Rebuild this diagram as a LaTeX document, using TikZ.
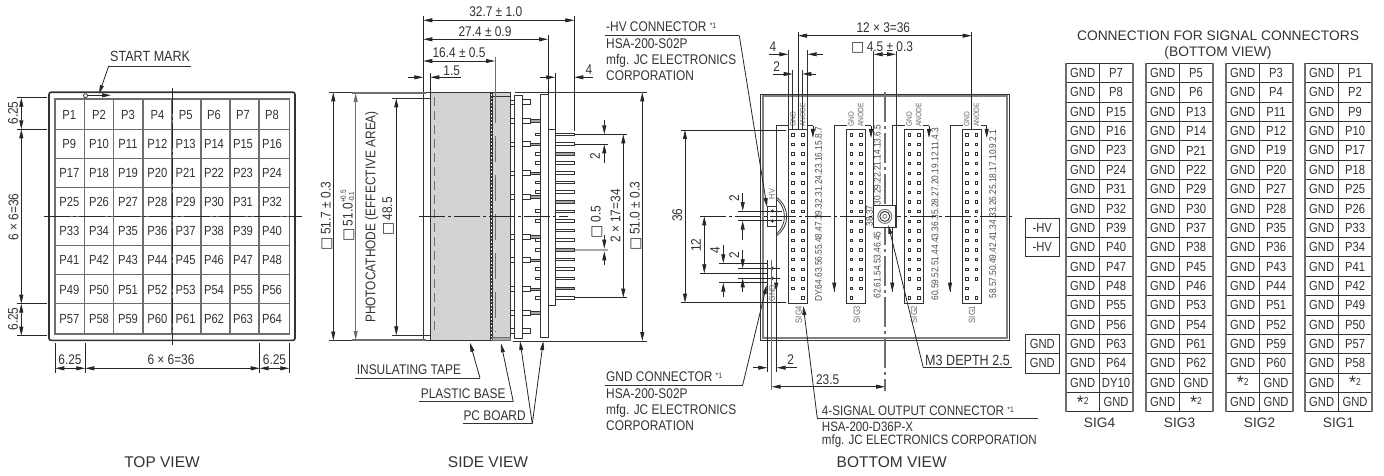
\documentclass[tikz,border=0pt]{standalone}
\usepackage{fontspec}
\setmainfont{Liberation Sans}[FakeStretch=0.85]
\newfontfamily\widefont{Liberation Sans}
\newfontfamily\symfont{DejaVu Sans}
\usetikzlibrary{arrows.meta}
\definecolor{ink}{HTML}{333333}
\definecolor{linegray}{HTML}{6E6E6E}
\definecolor{bodygray}{HTML}{D2D3D5}
\definecolor{pingray}{HTML}{A8A8A8}
\newcommand{\sq}{{\symfont □}}
\newcommand{\noteone}{\raisebox{3.5pt}{\fontsize{8}{8}\selectfont *1}}
\newcommand{\notetwo}{\raisebox{-3.5pt}{\fontsize{18}{18}\selectfont\widefont *}{\fontsize{10}{10}\selectfont 2}}
\tikzset{
  lbl/.style={font=\fontsize{14}{16}\selectfont, text=ink, inner sep=0pt},
  cell/.style={font=\fontsize{13.2}{15}\selectfont, text=ink, inner sep=0pt},
  title lbl/.style={font=\fontsize{15.5}{17}\selectfont\widefont, text=ink, inner sep=0pt},
  num lbl/.style={font=\fontsize{9.8}{11}\selectfont, text=black!70, inner sep=0pt, rotate=90},
  tiny lbl/.style={font=\fontsize{7.8}{9}\selectfont, text=black!60, inner sep=0pt, rotate=90},
  thin lne/.style={draw=ink, line width=0.8pt},
  ext/.style={draw=black!85, line width=0.7pt},
  dimboth/.style={draw=black!85, line width=0.8pt, {Stealth[inset=0pt,length=9pt,width=4pt]}-{Stealth[inset=0pt,length=9pt,width=4pt]}},
  dimto/.style={draw=black!85, line width=0.8pt, -{Stealth[inset=0pt,length=9pt,width=4pt]}},
  center lne/.style={draw=black!85, line width=0.8pt, dash pattern=on 26pt off 3pt on 3pt off 3pt},
  pin/.style={draw=ink, line width=0.7pt, fill=white},
}
% one table of the signal connectors: x of left edge, name, left column, right column
\newcommand{\sigtable}[4]{
  \foreach \txt [count=\i] in {#3}
    \node[cell] at ({#1+16.7},{63.3+19.36*(\i-0.5)}) {\txt};
  \foreach \txt [count=\i] in {#4}
    \node[cell] at ({#1+50},{63.3+19.36*(\i-0.5)}) {\txt};
  \foreach \i in {0,...,18}
    \draw[ink, line width=0.9pt] (#1,{63.3+19.36*\i}) -- ({#1+67},{63.3+19.36*\i});
  \draw[linegray, line width=1.2pt] (#1,63.3) -- (#1,411.8);
  \draw[linegray, line width=1.2pt] ({#1+67},63.3) -- ({#1+67},411.8);
  \draw[ink, line width=0.8pt] ({#1+33.3},63.3) -- ({#1+33.3},411.8);
  \node[lbl, font=\fontsize{13.7}{15}\selectfont\widefont] at ({#1+33.5},422.7) {#2};
}
% one connector of the bottom view: left edge, and the pin that is left out (x offset, row)
\newcommand{\sigconn}[3]{
  \draw[ink, line width=0.9pt, fill=white] (#1,129.3) rectangle ({#1+19.5},303.3);
  \foreach \i in {0,...,17}
    \foreach \xp in {4.8,14.5}
      \draw[ink, line width=0.7pt, fill=white] ({#1+\xp-1.2},{134.7+9.6*\i-1.2}) rectangle ({#1+\xp+1.2},{134.7+9.6*\i+1.2});
  \fill[white] ({#1+#2-1.8},{134.7+9.6*#3-1.8}) rectangle ({#1+#2+1.8},{134.7+9.6*#3+1.8});
  \node[tiny lbl, anchor=west] at ({#1+4.8},127) {GND};
  \node[tiny lbl, anchor=west] at ({#1+14.5},127) {ANODE};
  \draw[ink, line width=0.9pt] ({#1-12},291.7) -- ({#1-12},125.7) -- ({#1+0.5},125.7);
  \draw[dimto] ({#1-12},282) -- ({#1-12},291.7);
  \draw[ink, line width=0.9pt] ({#1+19},125.7) -- ({#1+24.7},125.7);
  \draw[dimto] ({#1+24.7},125.7) -- ({#1+24.7},138);
}
\begin{document}
\begin{tikzpicture}[x=1pt,y=-1pt]
\useasboundingbox (0,0) rectangle (1384,476);
% TOP VIEW
\draw[ink, line width=1.6pt, rounded corners=2pt] (49,92.3) rectangle (295,340.3);
\draw[linegray, line width=1.2pt] (55,99) rectangle (289.3,334);
\foreach \xg in {84.7,113.7,143,172,201,230,259}
  \draw[linegray, line width=1.2pt] (\xg,99) -- (\xg,334);
\foreach \yg in {129.3,158.3,187.3,216.3,245.3,274.7,303.7}
  \draw[linegray, line width=1.2pt] (55,\yg) -- (289.3,\yg);
\foreach \ya [count=\r] in {115,144,173,202,231,260,290,319}
  \foreach \xa [count=\c] in {69.3,99,128,157.4,185.7,214,243,272}{
    \pgfmathtruncatemacro{\pnum}{8*(\r-1)+\c}
    \node[cell] at (\xa,\ya) {P\pnum};
  }
\draw[center lne] (172,88) -- (172,345);
\draw[center lne] (43.7,216.3) -- (301.7,216.3);
\draw[ink, fill=white, line width=0.8pt] (85.5,95.7) circle (2pt);
\draw[dimto] (87.5,95.3) -- (111,95.3);
\node[lbl, font=\fontsize{14.8}{16}\selectfont, anchor=base west] (startmark) at (110,62) {START MARK};
\draw[thin lne] (191,66) -- (108.7,66);
\draw[dimto] (108.7,66) -- (99,94);
\foreach \ya in {97.7,129.3,303.7,335.7}
  \draw[ext] (17,\ya) -- (46.7,\ya);
\draw[dimboth] (21.3,97.7) -- (21.3,129.3);
\draw[dimboth] (21.3,129.3) -- (21.3,303.7);
\draw[dimboth] (21.3,303.7) -- (21.3,335.7);
\node[lbl, rotate=90] at (13,113) {6.25};
\node[lbl, rotate=90] at (13.5,217) {6 × 6=36};
\node[lbl, rotate=90] at (13,319) {6.25};
\foreach \xa in {55.3,85.3,259.7,289.3}
  \draw[ext] (\xa,342.7) -- (\xa,372.7);
\draw[dimboth] (55.3,368.3) -- (85.3,368.3);
\draw[dimboth] (85.3,368.3) -- (259.7,368.3);
\draw[dimboth] (259.7,368.3) -- (289.3,368.3);
\node[lbl] at (70,360) {6.25};
\node[lbl] at (171,360) {6 × 6=36};
\node[lbl] at (274.5,360) {6.25};
\node[title lbl] (topview) at (162,462) {TOP VIEW};
% SIDE VIEW
\fill[bodygray] (430.7,92.3) rectangle (490,340.3);
\fill[bodygray] (492,92.3) rectangle (510.3,340.3);
\draw[ink, line width=0.9pt] (423.3,92.3) -- (423.3,340.3);
\draw[ink, line width=1.3pt] (430.7,92.3) -- (430.7,340.3);
\draw[ink, line width=0.9pt] (423.3,92.3) -- (510.3,92.3) -- (510.3,340.3) -- (423.3,340.3);
\draw[ink, line width=0.9pt] (490,92.3) -- (490,340.3);
\draw[ink, line width=0.9pt] (492,92.3) -- (492,340.3);
\draw[ink, line width=0.8pt, dash pattern=on 2pt off 1.5pt] (491,92.3) -- (491,340.3);
\draw[ink, line width=0.9pt] (492,96.7) -- (510.3,96.7);
\draw[draw=linegray, fill=pingray, line width=0.7pt] (492,337) rectangle (510.3,340.3);
\draw[linegray, line width=0.9pt, dash pattern=on 9pt off 5pt] (434,97) -- (434,335);
\draw[linegray, line width=1pt, dash pattern=on 26pt off 13pt] (495,97) -- (495,332);
\draw[thin lne] (515,92.3) -- (646.7,92.3);
\draw[thin lne] (512.7,341) -- (646.7,341);
\foreach \ya in {102.3,120.7,144.3,173.3,196.7,236.7,260,289,312.7,331}{
  \draw[pin] (510.3,\ya-2.2) rectangle (514.7,\ya+2.2);
  \draw[pin] (522.7,\ya-2.5) rectangle (530.7,\ya+2.5);
}
\foreach \ya in {120.7,144.3,173.3,196.7,236.7,260,289,312.7}
  \draw[draw=ink, fill=pingray, line width=0.5pt] (530.7,\ya-1.2) rectangle (540.3,\ya+1.2);
\draw[ink, line width=0.9pt, fill=white] (514.7,95) rectangle (522.7,338);
\foreach \ya in {134.3,153.5,163.1,182.3,191.9,211.1,220.7,239.9,249.5,268.7,278.3,297.5}
  \draw[pin] (535.3,\ya-1.4) rectangle (540.3,\ya+1.4);
\draw[ink, line width=0.9pt, fill=white] (540.3,94.3) rectangle (548,337.7);
\draw[ink, line width=0.9pt, fill=white] (548,129) rectangle (555.3,305.3);
\foreach \i in {0,...,17}{
  \pgfmathsetmacro{\ya}{134.3+9.61*\i}
  \pgfmathtruncatemacro{\isgray}{(\i==2||\i==7||\i==12||\i==16)?1:0}
  \ifnum\isgray=1
    \draw[draw=ink, fill=pingray, line width=0.5pt] (555.3,\ya-1.3) rectangle (574.7,\ya+1.3);
  \else
    \draw[pin] (555.3,\ya-1.3) rectangle (574.7,\ya+1.3);
  \fi
}
\draw[center lne] (419,216) -- (568,216);
\draw[ext] (423.3,16) -- (423.3,92);
\draw[ext] (574.3,16) -- (574.3,131);
\draw[ext] (548,35) -- (548,94);
\draw[linegray, line width=0.9pt] (495,57) -- (495,97);
\draw[ext] (430.3,73) -- (430.3,92);
\draw[ext] (555.3,73) -- (555.3,129);
\draw[dimboth] (423.3,20.3) -- (574.3,20.3);
\draw[dimboth] (423.3,39.3) -- (548,39.3);
\draw[dimboth] (423.3,61) -- (495,61);
\draw[dimto] (408,77.3) -- (423.3,77.3);
\draw[dimto] (460.7,77.3) -- (430.3,77.3);
\draw[dimto] (540,77.3) -- (555.3,77.3);
\draw[dimto] (593,77.3) -- (574.3,77.3);
\node[lbl] at (495.7,12) {32.7 ± 1.0};
\node[lbl] at (485,32) {27.4 ± 0.9};
\node[lbl] at (459,53) {16.4 ± 0.5};
\node[lbl] at (451.7,71) {1.5};
\node[lbl] at (589,70) {4};
\draw[thin lne] (329,92.3) -- (426,92.3);
\draw[thin lne] (329,340.5) -- (426,340.5);
\draw[linegray, line width=1.1pt] (352.3,93) -- (426,93);
\draw[linegray, line width=1.1pt] (352.3,340) -- (426,340);
\draw[thin lne] (392,98.3) -- (430,98.3);
\draw[thin lne] (392,335.3) -- (430,335.3);
\draw[dimboth] (333.3,92.3) -- (333.3,340.5);
\draw[dimboth, draw=linegray] (355.7,93) -- (355.7,340);
\draw[dimboth] (396.3,98.3) -- (396.3,335.3);
\node[lbl, rotate=90] at (326.7,216) {\sq\,51.7 ± 0.3};
\node[lbl, rotate=90] at (347.5,216) {\sq\,51.0\raisebox{-1.5pt}{\fontsize{7.5}{7.5}\selectfont\shortstack[l]{+0.5\\-0.1}}};
\node[lbl, rotate=90] at (371.7,217) {PHOTOCATHODE (EFFECTIVE AREA)};
\node[lbl, rotate=90] at (388,216.5) {\sq\,48.5};
\foreach \ya in {134.3,144.3,297.7}
  \draw[ext] (575,\ya) -- (608,\ya);
\draw[ext] (608,134.3) -- (627.3,134.3);
\draw[ext] (608,297.7) -- (627.3,297.7);
\draw[draw=pingray, line width=2.4pt] (575,250) -- (608,250);
\draw[dimto] (604.3,120) -- (604.3,134.3);
\draw[dimto] (604.3,163) -- (604.3,144.3);
\draw[dimto] (604.3,235) -- (604.3,248.7);
\draw[dimto] (604.3,265) -- (604.3,251.3);
\draw[dimboth] (623.3,134.3) -- (623.3,297.7);
\draw[dimboth] (642.3,92.3) -- (642.3,341);
\node[lbl, rotate=90] at (595,156) {2};
\node[lbl, rotate=90] at (596.7,222) {\sq\,0.5};
\node[lbl, rotate=90] at (615.5,216) {2 × 17=34};
\node[lbl, rotate=90] at (635.5,216) {\sq\,51.0 ± 0.3};
\node[lbl, anchor=base west] (insulating) at (356.7,374.5) {INSULATING TAPE};
\draw[thin lne] (355,378) -- (480,378);
\draw[dimto] (480,378) -- (470,342.7);
\node[lbl, anchor=base west] (plastic) at (420.7,398) {PLASTIC BASE};
\draw[thin lne] (419,401.7) -- (513.3,401.7);
\draw[dimto] (513.3,401.7) -- (501,343.3);
\node[lbl, anchor=base west] (pcboard) at (463.3,420) {PC BOARD};
\draw[thin lne] (462.7,423.7) -- (532.3,423.7);
\draw[dimto] (532.3,423.7) -- (520,341);
\draw[dimto] (532.3,423.7) -- (543.3,341);
\node[title lbl] (sideview) at (488,462) {SIDE VIEW};
% BOTTOM VIEW
\draw[ink, line width=0.9pt] (760.7,94.3) rectangle (1009,340);
\draw[black!50, line width=2pt] (762.5,96.1) rectangle (1007.2,338.2);
\sigconn{788.2}{4.8}{17}
\sigconn{846.3}{14.5}{17}
\sigconn{904.3}{4.8}{16}
\sigconn{962}{14.5}{16}
\node[num lbl] at (818.5,214.5) {DY.64.63.56.55.48.47.39.32.31.24.23.16.15.8.7};
\node[num lbl] at (877.3,165) {30.29.22.21.14.13.6.5};
\node[num lbl] at (869.5,216) {38.37};
\node[num lbl] at (877.3,265) {62.61.54.53.46.45};
\node[num lbl] at (935,214) {60.59.52.51.44.43.36.35.28.27.20.19.12.11.4.3};
\node[num lbl] at (992.7,214) {58.57.50.49.42.41.34.33.26.25.18.17.10.9.2.1};
\foreach \xa/\signame in {798.7/SIG4,856.7/SIG3,914/SIG2,972/SIG1}
  \node[tiny lbl, font=\fontsize{9}{10}\selectfont] at (\xa,314.5) {\signame};
\draw[linegray, line width=1.2pt, dash pattern=on 30pt off 4pt on 3pt off 4pt] (885,92) -- (885,390.7);
\draw[center lne] (700,216.3) -- (1013,216.3);
\draw[ink, line width=1.4pt, fill=white] (873.7,205.3) rectangle (896,227.7);
\draw[linegray, line width=0.9pt] (884.8,216.4) circle (7pt);
\draw[ink, line width=0.9pt] (884.8,216.4) circle (5pt);
\draw[linegray, line width=0.7pt] (884.8,216.4) circle (2pt);
\draw[ext] (798,32) -- (798,129);
\draw[ext] (971.7,32) -- (971.7,129);
\draw[dimboth] (798,35.7) -- (971.7,35.7);
\node[lbl] at (883.3,28) {12 × 3=36};
\draw[ink, line width=0.9pt] (873.7,51) -- (873.7,205);
\draw[ink, line width=0.9pt] (896,51) -- (896,205);
\draw[dimto] (885,54.3) -- (873.7,54.3);
\draw[dimto] (885,54.3) -- (896,54.3);
\node[lbl, anchor=west] at (851,47.5) {\sq\,4.5 ± 0.3};
\draw[ink, line width=0.9pt] (788.3,50) -- (788.3,129);
\draw[ink, line width=0.9pt] (807.7,50) -- (807.7,129);
\draw[ink, line width=0.9pt] (792.7,70) -- (792.7,129);
\draw[ink, line width=0.9pt] (802.3,70) -- (802.3,129);
\draw[dimto] (769,54.3) -- (788.3,54.3);
\draw[dimto] (823,54.3) -- (807.7,54.3);
\draw[dimto] (772.7,74) -- (792.7,74);
\draw[dimto] (816,74) -- (802.3,74);
\node[lbl] at (773,47) {4};
\node[lbl] at (776.7,66.7) {2};
% left dimensions
\draw[ext] (681,130) -- (786,130);
\draw[ext] (681,302.7) -- (786,302.7);
\draw[dimboth] (685,130) -- (685,302.7);
\node[lbl, rotate=90] at (677.3,215) {36};
\draw[ext] (700,273.3) -- (768,273.3);
\draw[dimboth] (704.3,216.3) -- (704.3,273.3);
\node[lbl, rotate=90] at (696,245) {12};
\draw[ext] (719,263.3) -- (767,263.3);
\draw[ext] (719,282.7) -- (767,282.7);
\draw[dimto] (723.3,245) -- (723.3,263.3);
\draw[dimto] (723.3,296.7) -- (723.3,282.7);
\node[lbl, rotate=90] at (715,250) {4};
\draw[ext] (738.3,268.3) -- (780,268.3);
\draw[ext] (738.3,278.3) -- (780,278.3);
\draw[dimto] (742.7,250) -- (742.7,268.3);
\draw[dimto] (742.7,291.7) -- (742.7,278.3);
\node[lbl, rotate=90] at (734.3,255) {2};
\draw[ext] (738,211) -- (782,211);
\draw[ext] (738,220.7) -- (782,220.7);
\draw[dimto] (742.7,193) -- (742.7,211);
\draw[dimto] (742.7,240) -- (742.7,220.7);
\node[lbl, rotate=90] at (734.3,197.7) {2};
% HV and GND connectors
\draw[ink, line width=0.9pt] (767.3,206.7) rectangle (776.7,226.7);
\draw[ink, line width=0.8pt] (776.7,199.5) .. controls (787,208) and (787,225) .. (776.7,233.5);
\draw[ink, line width=0.8pt] (776.7,197.5) .. controls (790,207) and (790,226) .. (776.7,235.5);
\fill[ink] (772.3,211) circle (1.8pt);
\fill[ink] (772.3,221) circle (1.8pt);
\fill[ink] (772.3,268.3) circle (1.8pt);
\fill[ink] (772.3,278.3) circle (1.8pt);
\node[tiny lbl, font=\fontsize{8.5}{9}\selectfont] at (772,194) {HV};
\node[tiny lbl, font=\fontsize{8.5}{9}\selectfont] at (772,293) {GND};
\draw[ext] (767.3,260) -- (767.3,372);
\draw[ext] (776.7,290) -- (776.7,372);
\draw[linegray, line width=1pt] (771.7,260) -- (771.7,390);
\draw[dimto] (753,367.7) -- (767.3,367.7);
\draw[dimto] (796.7,367.7) -- (776.7,367.7);
\node[lbl] at (790.7,360) {2};
\draw[dimboth] (771.7,386.7) -- (885,386.7);
\node[lbl] at (827.7,379.3) {23.5};
% leaders
\draw[thin lne] (605,35.7) -- (739.3,35.7);
\draw[dimto] (739.3,35.7) -- (767,207);
\node[lbl, anchor=base west] (hvconn) at (606,32) {-HV CONNECTOR \noteone};
\node[lbl, anchor=base west] at (606,48.5) {HSA-200-S02P};
\node[lbl, anchor=base west] at (606,64.5) {mfg. JC ELECTRONICS};
\node[lbl, anchor=base west] at (606,80.5) {CORPORATION};
\draw[thin lne] (605,385) -- (742.7,385);
\draw[dimto] (742.7,385) -- (766.7,285);
\node[lbl, anchor=base west] (gndconn) at (606,381.5) {GND CONNECTOR \noteone};
\node[lbl, anchor=base west] at (606,398.5) {HSA-200-S02P};
\node[lbl, anchor=base west] at (606,414.5) {mfg. JC ELECTRONICS};
\node[lbl, anchor=base west] at (606,430.5) {CORPORATION};
\draw[thin lne] (817.3,418.3) -- (1038.3,418.3);
\draw[dimto] (817.3,418.3) -- (803.3,306);
\node[lbl, font=\fontsize{13.7}{15}\selectfont, anchor=base west] (sigconn) at (821.7,415.5) {4-SIGNAL OUTPUT CONNECTOR \noteone};
\node[lbl, font=\fontsize{13.6}{15}\selectfont, anchor=base west] at (821.7,431.5) {HSA-200-D36P-X};
\node[lbl, font=\fontsize{13.6}{15}\selectfont, anchor=base west] at (821.7,444) {mfg. JC ELECTRONICS CORPORATION};
\draw[thin lne] (923.3,367.7) -- (1012,367.7);
\draw[dimto] (923.3,367.7) -- (888.3,225);
\node[lbl, font=\fontsize{14.8}{16}\selectfont, anchor=base west] (mthree) at (925,365) {M3 DEPTH 2.5};
\node[title lbl] (bottomview) at (891.7,462) {BOTTOM VIEW};
% CONNECTION TABLE
\node[lbl, font=\fontsize{13.8}{15}\selectfont\widefont] (tabletitle) at (1218,35.7) {CONNECTION FOR SIGNAL CONNECTORS};
\node[lbl, font=\fontsize{13.8}{15}\selectfont\widefont] at (1218,52.7) {(BOTTOM VIEW)};
\sigtable{1066}{SIG4}{GND,GND,GND,GND,GND,GND,GND,GND,GND,GND,GND,GND,GND,GND,GND,GND,GND,\notetwo}{P7,P8,P15,P16,P23,P24,P31,P32,P39,P40,P47,P48,P55,P56,P63,P64,DY10,GND}
\sigtable{1146}{SIG3}{GND,GND,GND,GND,GND,GND,GND,GND,GND,GND,GND,GND,GND,GND,GND,GND,GND,GND}{P5,P6,P13,P14,P21,P22,P29,P30,P37,P38,P45,P46,P53,P54,P61,P62,GND,\notetwo}
\sigtable{1226}{SIG2}{GND,GND,GND,GND,GND,GND,GND,GND,GND,GND,GND,GND,GND,GND,GND,GND,\notetwo,GND}{P3,P4,P11,P12,P19,P20,P27,P28,P35,P36,P43,P44,P51,P52,P59,P60,GND,GND}
\sigtable{1305}{SIG1}{GND,GND,GND,GND,GND,GND,GND,GND,GND,GND,GND,GND,GND,GND,GND,GND,GND,GND}{P1,P2,P9,P10,P17,P18,P25,P26,P33,P34,P41,P42,P49,P50,P57,P58,\notetwo,GND}
\draw[ink, line width=0.9pt] (1025.7,218.2) rectangle (1059,256.9);
\draw[ink, line width=0.9pt] (1025.7,237.6) -- (1059,237.6);
\node[cell] at (1042.3,227.9) {-HV};
\node[cell] at (1042.3,247.3) {-HV};
\draw[ink, line width=0.9pt] (1025.7,334.3) rectangle (1059,373);
\draw[ink, line width=0.9pt] (1025.7,353.7) -- (1059,353.7);
\node[cell] at (1042.3,344) {GND};
\node[cell] at (1042.3,363.4) {GND};
\end{tikzpicture}
\end{document}
